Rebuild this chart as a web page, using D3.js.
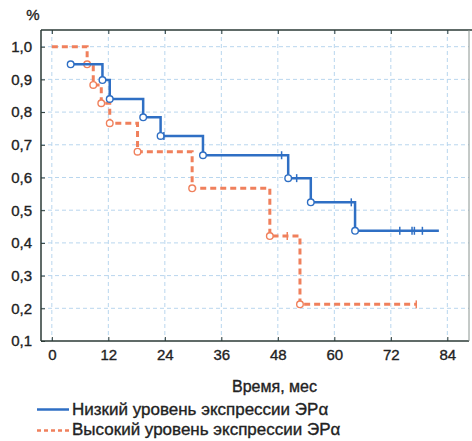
<!DOCTYPE html>
<html><head><meta charset="utf-8">
<script src="https://cdn.jsdelivr.net/npm/d3@7"></script>
<style>body{margin:0;background:#fff;} svg{display:block;} text{font-family:"Liberation Sans",Arial,sans-serif;fill:#222;stroke:#222;stroke-width:0.35px;}</style>
</head><body>
<svg id="c" width="472" height="441"></svg>
<script>
const xTicks = [0, 12, 24, 36, 48, 60, 72, 84];
const yTicks = [0.1, 0.2, 0.3, 0.4, 0.5, 0.6, 0.7, 0.8, 0.9, 1.0];
const xTitle = "Время, мес";
const yTitle = "%";
const seriesNames = ["Низкий уровень экспрессии ЭРα", "Высокий уровень экспрессии ЭРα"];

const lowTimes = [4.0, 10.75, 12.3, 19.4, 23.1, 32.1, 50.2, 55.0, 64.4];
const lowSurv  = [0.946, 0.898, 0.84, 0.784, 0.727, 0.668, 0.598, 0.524, 0.437];
const lowCensor = [23.8, 48.8, 52.0, 63.6, 73.9, 76.5, 77.0, 78.7];
const lowEnd = 82.2;

const highTimes = [0, 7.5, 8.8, 10.5, 12.3, 18.2, 29.8, 46.3, 52.7];
const highSurv  = [1.0, 0.946, 0.883, 0.827, 0.766, 0.679, 0.567, 0.421, 0.212];
const highCensor = [50.0, 77.4];
const highEnd = 77.4;

const blue = "#2f6fc4", red = "#f0805c";
const svg = d3.select("#c");
const L = 41, R = 469, T = 30, B = 341;
const x = d3.scaleLinear().domain([-2.3, 88.6]).range([L, R]);
const y = d3.scaleLinear().domain([0.1, 1.051]).range([B, T]);

// grid
const g = svg.append("g");
g.selectAll("line.vg").data(xTicks).enter().append("line")
  .attr("x1", d => x(d)).attr("x2", d => x(d)).attr("y1", T).attr("y2", B)
  .attr("stroke", "#b9d6ee").attr("stroke-width", 1).attr("stroke-dasharray", "4,3");
g.selectAll("line.hg").data(yTicks.slice(1)).enter().append("line")
  .attr("x1", L).attr("x2", R).attr("y1", d => y(d)).attr("y2", d => y(d))
  .attr("stroke", "#b9d6ee").attr("stroke-width", 1).attr("stroke-dasharray", "4,3");

// axes
const xAxis = d3.axisBottom(x).tickValues(xTicks).tickSize(-4).tickPadding(8).tickFormat(d3.format("d"));
const ax = svg.append("g").attr("transform", `translate(0,${B})`).call(xAxis);
const yAxis = d3.axisLeft(y).tickValues(yTicks).tickSize(-4).tickPadding(9).tickFormat(d => d3.format(".1f")(d).replace(".", ","));
const ay = svg.append("g").attr("transform", `translate(${L},0)`).call(yAxis);
const topAx = svg.append("g").attr("transform", `translate(0,${T})`).call(d3.axisTop(x).tickValues(xTicks).tickSize(-4).tickFormat(""));
[ax, ay, topAx].forEach(a => {
  a.select(".domain").remove();
  a.selectAll(".tick line").attr("stroke", "#2b3a36");
  a.selectAll(".tick text").style("font-size", "15px").attr("fill", "#222").style("font-family", "Liberation Sans, Arial, sans-serif");
});
// frame
svg.append("line").attr("x1", L).attr("x2", R).attr("y1", B).attr("y2", B).attr("stroke", "#2b3a36").attr("stroke-width", 1.5);
svg.append("line").attr("x1", L).attr("x2", L).attr("y1", T).attr("y2", B).attr("stroke", "#2b3a36").attr("stroke-width", 1.5);
svg.append("line").attr("x1", L).attr("x2", 472).attr("y1", T).attr("y2", T).attr("stroke", "#2b3a36").attr("stroke-width", 1.5);
svg.append("line").attr("x1", R).attr("x2", R).attr("y1", T).attr("y2", B).attr("stroke", "#8a9490").attr("stroke-width", 1);

// titles
svg.append("text").attr("x", 33).attr("y", 20).attr("text-anchor", "middle").style("font-size", "15px").text(yTitle);
svg.append("text").attr("x", 274.5).attr("y", 391.5).attr("text-anchor", "middle").style("font-size", "16px").text(xTitle);

function drawSeries(times, surv, censor, endT, color, dash, width) {
  const pts = times.map((t, i) => [t, surv[i]]);
  pts.push([endT, surv[surv.length - 1]]);
  const line = d3.line().x(d => x(d[0])).y(d => y(d[1])).curve(d3.curveStepAfter);
  svg.append("path").attr("d", line(pts)).attr("fill", "none").attr("stroke", color)
    .attr("stroke-width", width).attr("stroke-dasharray", dash);
  const valAt = t => surv[d3.bisectRight(times, t) - 1];
  svg.selectAll(null).data(censor).enter().append("line")
    .attr("x1", d => x(d)).attr("x2", d => x(d)).attr("y1", d => y(valAt(d)) - 4).attr("y2", d => y(valAt(d)) + 4)
    .attr("stroke", color).attr("stroke-width", 1.5);
  const ev = times.map((t, i) => [t, surv[i]]).filter(d => d[0] > 0);
  svg.selectAll(null).data(ev).enter().append("circle")
    .attr("cx", d => x(d[0])).attr("cy", d => y(d[1])).attr("r", 3.3)
    .attr("fill", "#fff").attr("stroke", color).attr("stroke-width", 1.4);
}
drawSeries(highTimes, highSurv, highCensor, highEnd, red, "6,4", 3);
drawSeries(lowTimes, lowSurv, lowCensor, lowEnd, blue, null, 2.5);

// legend
const leg = [{n: seriesNames[0], c: blue, d: null, y: 409.5, by: 415}, {n: seriesNames[1], c: red, d: "4,3", y: 430.5, by: 435}];
leg.forEach(l => {
  svg.append("line").attr("x1", 37).attr("x2", 69).attr("y1", l.y).attr("y2", l.y)
    .attr("stroke", l.c).attr("stroke-width", 2.5).attr("stroke-dasharray", l.d);
  svg.append("text").attr("x", 72).attr("y", l.by).style("font-size", "17px").text(l.n);
});
</script>
</body></html>
